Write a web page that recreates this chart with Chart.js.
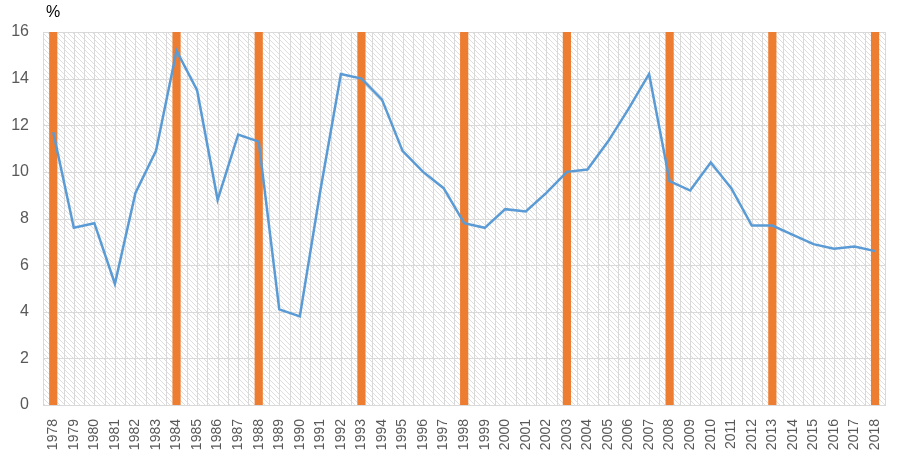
<!DOCTYPE html>
<html>
<head>
<meta charset="utf-8">
<script src="https://cdn.jsdelivr.net/npm/chart.js@4"></script>
<style>
  html, body { margin: 0; padding: 0; background: #fff; }
  #wrap { position: relative; width: 898px; height: 458px; }
  #unit { position: absolute; left: 46px; top: 3px; font: 16px "Liberation Sans", Arial, sans-serif; color: #000; }
</style>
</head>
<body>
<div id="wrap">
  <canvas id="c" width="898" height="458"></canvas>
  <div id="unit">%</div>
</div>
<script>
const years = ["1978","1979","1980","1981","1982","1983","1984","1985","1986","1987","1988","1989","1990","1991","1992","1993","1994","1995","1996","1997","1998","1999","2000","2001","2002","2003","2004","2005","2006","2007","2008","2009","2010","2011","2012","2013","2014","2015","2016","2017","2018"];
const growth = [11.7,7.6,7.8,5.2,9.1,10.9,15.2,13.5,8.8,11.6,11.3,4.1,3.8,9.2,14.2,14.0,13.1,10.9,10.0,9.3,7.8,7.6,8.4,8.3,9.1,10.0,10.1,11.3,12.7,14.2,9.6,9.2,10.4,9.3,7.7,7.7,7.3,6.9,6.7,6.8,6.6];
const markYears = ["1978","1984","1988","1993","1998","2003","2008","2013","2018"];
const markHeight = 16;
const markValues = years.map(y => markYears.includes(y) ? markHeight : null);
const yTicks = [0,2,4,6,8,10,12,14,16];

function makePattern(ctx) {
  const p = document.createElement('canvas');
  p.width = 5; p.height = 5;
  const g = p.getContext('2d');
  g.fillStyle = '#ffffff';
  g.fillRect(0,0,5,5);
  g.fillStyle = '#dedede';
  for (let i = 0; i < 5; i++) g.fillRect(i, i, 1, 1);
  return ctx.createPattern(p, 'repeat');
}

const bgPlugin = {
  id: 'bg',
  beforeDatasetsDraw(chart) {
    const {ctx, chartArea: a} = chart;
    ctx.save();
    ctx.fillStyle = makePattern(ctx);
    ctx.fillRect(a.left, a.top, a.right - a.left, a.bottom - a.top);
    ctx.strokeStyle = '#d9d9d9';
    ctx.lineWidth = 1;
    const n = years.length;
    const w = (a.right - a.left) / n;
    for (let i = 0; i <= 2 * n; i++) {
      const xx = Math.round(a.left + i * w / 2) + 0.5;
      ctx.beginPath(); ctx.moveTo(xx, a.top); ctx.lineTo(xx, a.bottom); ctx.stroke();
    }
    const y = chart.scales.y;
    yTicks.forEach(v => {
      const yy = Math.round(y.getPixelForValue(v)) + 0.5;
      ctx.beginPath(); ctx.moveTo(a.left, yy); ctx.lineTo(a.right, yy); ctx.stroke();
    });
    ctx.restore();
  }
};

new Chart(document.getElementById('c'), {
  data: {
    labels: years,
    datasets: [
      {
        type: 'line',
        data: growth,
        borderColor: '#5B9BD5',
        borderWidth: 2.5,
        pointRadius: 0,
        tension: 0,
        fill: false,
        order: 0
      },
      {
        type: 'bar',
        data: markValues,
        backgroundColor: '#ED7D31',
        barPercentage: 0.4,
        categoryPercentage: 1,
        order: 1
      }
    ]
  },
  options: {
    responsive: false,
    animation: false,
    layout: { padding: { top: 32, right: 11, left: 0, bottom: 0 } },
    plugins: { legend: { display: false }, tooltip: { enabled: false } },
    scales: {
      x: {
        offset: true,
        grid: { display: false },
        border: { display: true, color: '#d9d9d9', width: 1 },
        ticks: {
          minRotation: 90, maxRotation: 90, autoSkip: false,
          color: '#595959',
          font: { family: 'Liberation Sans', size: 14 },
          padding: 6
        },
        afterFit(s) { s.height = 53; }
      },
      y: {
        min: 0, max: 16,
        ticks: { stepSize: 2, color: '#595959', font: { family: 'Liberation Sans', size: 16 }, padding: 6 },
        grid: { display: false },
        border: { display: false },
        afterFit(s) { s.width = 43; }
      }
    }
  },
  plugins: [bgPlugin]
});
</script>
</body>
</html>
